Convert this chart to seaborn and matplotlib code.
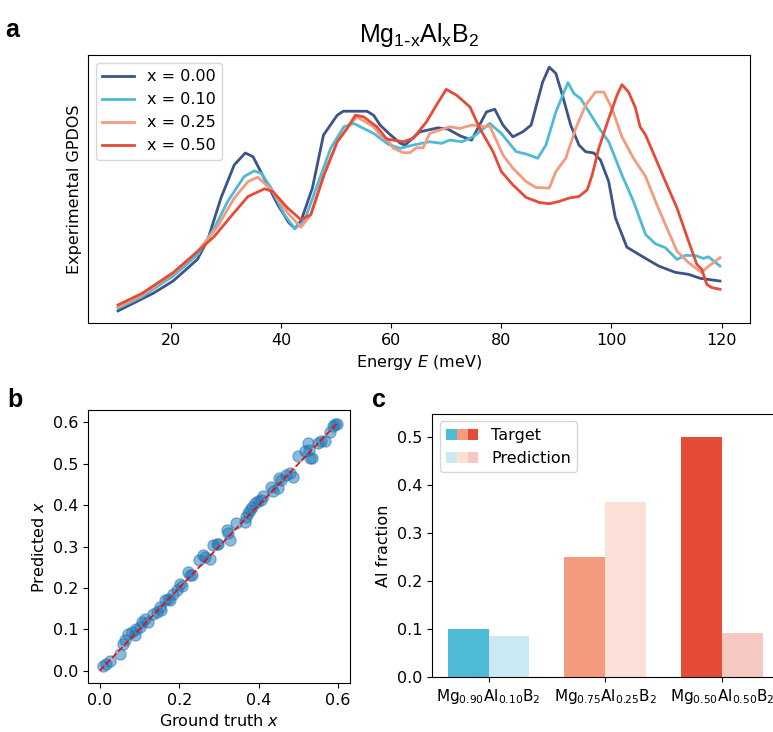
import matplotlib
matplotlib.use("Agg")
import matplotlib.pyplot as plt
import seaborn as sns
import pandas as pd
from matplotlib.patches import Patch
from matplotlib.legend_handler import HandlerTuple

# ---------------- panel a: experimental GPDOS spectra ----------------
series_labels = ["x = 0.00", "x = 0.10", "x = 0.25", "x = 0.50"]
line_colors = ["#3C5488", "#4DBBD5", "#F39B7F", "#E64B35"]

energy_000 = [10.4, 16.8, 20.4, 24.8, 26.7, 29.1, 31.5, 33.5, 34.9, 36.9, 39.4, 41.4, 42.5, 43.6,
              45.7, 47.7, 50.2, 51.3, 55.6, 56.8, 58.0, 59.5, 61.6, 62.5, 65.2, 68.5, 70.3, 72.5,
              74.6, 77.3, 78.8, 80.3, 82.1, 83.9, 85.4, 87.5, 88.7, 89.9, 91.1, 92.6, 94.1, 95.3,
              96.8, 98.0, 99.5, 100.7, 102.8, 105.5, 108.6, 111.6, 114.0, 116.1, 119.7]
gpdos_000 = [0.113, 0.29, 0.413, 0.63, 0.83, 1.25, 1.58, 1.70, 1.663, 1.45, 1.18, 1.00, 0.94, 1.013,
             1.35, 1.88, 2.08, 2.12, 2.12, 2.08, 1.98, 1.90, 1.80, 1.78, 1.913, 1.953, 1.94, 1.873,
             1.83, 2.113, 2.14, 1.98, 1.863, 1.913, 1.98, 2.413, 2.563, 2.50, 2.28, 1.98, 1.78, 1.713,
             1.70, 1.63, 1.413, 1.05, 0.753, 0.663, 0.563, 0.50, 0.48, 0.44, 0.413]

energy_010 = [10.4, 14.7, 20.4, 24.9, 27.9, 30.3, 33.3, 35.1, 36.4, 38.2, 40.6, 42.5, 44.2, 46.6,
              49.0, 51.4, 53.2, 56.8, 58.0, 59.5, 61.6, 64.0, 67.0, 69.2, 70.6, 72.8, 74.9, 77.9,
              80.0, 82.7, 84.5, 86.6, 88.1, 89.9, 92.1, 93.2, 94.4, 96.5, 98.0, 99.5, 101.9, 104.0,
              106.2, 108.0, 109.8, 111.9, 113.4, 115.2, 116.7, 117.6, 119.7]
gpdos_010 = [0.14, 0.253, 0.463, 0.68, 0.947, 1.213, 1.463, 1.52, 1.497, 1.347, 1.08, 0.94, 1.013, 1.38,
             1.747, 1.963, 1.997, 1.897, 1.847, 1.787, 1.747, 1.78, 1.813, 1.797, 1.83, 1.813, 1.863, 1.997,
             1.897, 1.713, 1.69, 1.647, 1.78, 2.113, 2.407, 2.297, 2.247, 2.063, 1.93, 1.813, 1.48, 1.213,
             0.88, 0.787, 0.747, 0.63, 0.67, 0.67, 0.64, 0.657, 0.563]

energy_025 = [10.4, 14.7, 20.4, 24.9, 28.5, 31.5, 34.0, 35.8, 38.2, 41.2, 43.6, 45.4, 47.8, 50.2,
              52.6, 53.8, 56.8, 58.0, 59.5, 60.4, 62.2, 63.4, 64.6, 65.8, 67.0, 68.8, 70.6, 72.5,
              74.6, 77.3, 77.9, 80.3, 82.1, 84.5, 86.3, 88.7, 89.9, 91.7, 93.5, 95.3, 97.1, 98.6,
              100.1, 101.9, 104.0, 106.2, 108.0, 109.8, 111.9, 114.0, 116.4, 117.3, 119.7]
gpdos_025 = [0.153, 0.273, 0.487, 0.713, 0.963, 1.247, 1.413, 1.457, 1.33, 1.097, 0.953, 1.08, 1.48, 1.813,
             1.997, 2.063, 1.963, 1.88, 1.82, 1.747, 1.703, 1.703, 1.753, 1.753, 1.897, 1.93, 1.963, 1.947,
             1.98, 1.963, 1.973, 1.68, 1.547, 1.413, 1.353, 1.347, 1.513, 1.647, 1.947, 2.18, 2.313, 2.313,
             2.147, 1.863, 1.647, 1.463, 1.213, 0.98, 0.713, 0.597, 0.497, 0.547, 0.647]

energy_050 = [10.4, 14.7, 20.4, 24.9, 27.9, 30.9, 34.0, 37.0, 38.5, 41.2, 43.6, 45.4, 47.8, 50.2,
              52.0, 53.5, 55.0, 57.4, 59.2, 62.2, 64.0, 66.4, 68.2, 70.0, 71.9, 74.3, 76.1, 78.5,
              80.0, 82.1, 84.5, 86.9, 88.7, 90.5, 92.3, 94.1, 95.6, 96.5, 97.7, 99.5, 101.0, 101.9,
              103.1, 104.3, 105.2, 106.2, 108.0, 109.8, 111.9, 114.0, 115.5, 116.4, 117.3, 118.2, 119.7]
gpdos_050 = [0.173, 0.287, 0.497, 0.713, 0.863, 1.063, 1.263, 1.34, 1.313, 1.147, 1.03, 1.08, 1.48, 1.813,
             1.947, 2.08, 2.063, 1.963, 1.84, 1.813, 1.847, 2.013, 2.18, 2.34, 2.28, 2.163, 1.947, 1.713,
             1.513, 1.38, 1.253, 1.203, 1.19, 1.213, 1.247, 1.263, 1.33, 1.48, 1.747, 2.047, 2.28, 2.387,
             2.313, 2.163, 1.963, 1.88, 1.647, 1.413, 1.147, 0.813, 0.58, 0.53, 0.38, 0.347, 0.33]

# ---------------- panel b: predicted vs ground-truth composition ----------------
ground_truth = [0.008, 0.015, 0.025, 0.050, 0.057, 0.063, 0.071, 0.080, 0.088, 0.092, 0.101,
                0.105, 0.113, 0.122, 0.134, 0.143, 0.155, 0.151, 0.164, 0.172, 0.176, 0.185,
                0.193, 0.201, 0.206, 0.222, 0.227, 0.231, 0.250, 0.260, 0.264, 0.277, 0.285,
                0.294, 0.298, 0.319, 0.323, 0.327, 0.344, 0.365, 0.369, 0.373, 0.378, 0.382,
                0.390, 0.398, 0.407, 0.411, 0.432, 0.436, 0.449, 0.451, 0.457, 0.470, 0.478,
                0.487, 0.499, 0.516, 0.524, 0.527, 0.533, 0.529, 0.550, 0.558, 0.566, 0.579,
                0.586, 0.592, 0.597]
predicted = [0.012, 0.016, 0.024, 0.039, 0.065, 0.073, 0.089, 0.093, 0.085, 0.101, 0.105,
             0.117, 0.125, 0.117, 0.137, 0.142, 0.146, 0.154, 0.170, 0.174, 0.171, 0.186,
             0.194, 0.210, 0.204, 0.239, 0.231, 0.232, 0.267, 0.279, 0.275, 0.271, 0.303,
             0.307, 0.307, 0.341, 0.332, 0.316, 0.356, 0.360, 0.372, 0.380, 0.388, 0.396,
             0.405, 0.409, 0.413, 0.421, 0.445, 0.433, 0.441, 0.465, 0.461, 0.473, 0.477,
             0.469, 0.518, 0.530, 0.550, 0.534, 0.514, 0.514, 0.550, 0.554, 0.554, 0.578,
             0.591, 0.595, 0.595]

# ---------------- panel c: Al fraction, target vs prediction ----------------
compositions = [r"$\mathregular{Mg_{0.90}Al_{0.10}B_2}$",
                r"$\mathregular{Mg_{0.75}Al_{0.25}B_2}$",
                r"$\mathregular{Mg_{0.50}Al_{0.50}B_2}$"]
target_fraction = [0.10, 0.25, 0.50]
predicted_fraction = [0.087, 0.366, 0.093]
target_colors = ["#4DBBD5", "#F39B7F", "#E64B35"]
prediction_alpha = 0.3

FS = 11.5
plt.rcParams.update({
    "font.family": ["DejaVu Sans"],
    "font.size": FS,
    "axes.labelsize": FS,
    "xtick.labelsize": FS,
    "ytick.labelsize": FS,
    "legend.fontsize": FS,
})

fig = plt.figure(figsize=(7.73, 7.32), dpi=100)
ax_a = fig.add_axes([0.1138, 0.5587, 0.8565, 0.3662])
ax_b = fig.add_axes([0.1138, 0.0669, 0.3390, 0.3730])
ax_c = fig.add_axes([0.5589, 0.0747, 0.4484, 0.3604])

# ---- a ----
spectra = pd.concat([
    pd.DataFrame({"E": e, "GPDOS": g, "series": lab})
    for e, g, lab in zip([energy_000, energy_010, energy_025, energy_050],
                         [gpdos_000, gpdos_010, gpdos_025, gpdos_050],
                         series_labels)
], ignore_index=True)
sns.lineplot(data=spectra, x="E", y="GPDOS", hue="series", hue_order=series_labels,
             palette=line_colors, sort=False, estimator=None, linewidth=2, ax=ax_a)
ax_a.legend(loc="upper left")
ax_a.set_yticks([])
ax_a.set_xticks([20, 40, 60, 80, 100, 120])
ax_a.set_xlabel("Energy $E$ (meV)")
ax_a.set_ylabel("Experimental GPDOS")
ax_a.set_title(r"$\mathregular{Mg_{1\text{-}x}Al_xB_2}$", fontsize=18,
               fontfamily="Liberation Sans", pad=9)

# ---- b ----
sns.scatterplot(x=ground_truth, y=predicted, s=64, alpha=0.5, color="#1f77b4",
                edgecolor="#1f77b4", linewidth=1, ax=ax_b)
ax_b.plot([0, 0.6], [0, 0.6], "r--", linewidth=1.2)
ax_b.set_xticks([0.0, 0.2, 0.4, 0.6])
ax_b.set_yticks([0.0, 0.1, 0.2, 0.3, 0.4, 0.5, 0.6])
ax_b.set_xlabel("Ground truth $x$")
ax_b.set_ylabel("Predicted $x$")

# ---- c ----
bars = pd.DataFrame({
    "composition": compositions * 2,
    "kind": ["Target"] * 3 + ["Prediction"] * 3,
    "fraction": target_fraction + predicted_fraction,
})
sns.barplot(data=bars, x="composition", y="fraction", hue="kind",
            hue_order=["Target", "Prediction"], width=0.7, saturation=1,
            legend=False, ax=ax_c)
for bar, col in zip(ax_c.containers[0], target_colors):
    bar.set_facecolor(col)
    bar.set_edgecolor("none")
for bar, col in zip(ax_c.containers[1], target_colors):
    bar.set_facecolor(col)
    bar.set_alpha(prediction_alpha)
    bar.set_edgecolor("none")
ax_c.set_xlim(-0.485, 2.485)
ax_c.set_ylim(0, 0.55)
ax_c.set_yticks([0.0, 0.1, 0.2, 0.3, 0.4, 0.5])
ax_c.set_xlabel("")
ax_c.set_ylabel("Al fraction")
ax_c.tick_params(axis="x", labelsize=11)
handles = [tuple(Patch(facecolor=c) for c in target_colors),
           tuple(Patch(facecolor=c, alpha=prediction_alpha) for c in target_colors)]
ax_c.legend(handles, ["Target", "Prediction"],
            handler_map={tuple: HandlerTuple(ndivide=None, pad=0)}, loc="upper left")

# panel letters
for letter, x, y in [("a", 0.007, 0.9495), ("b", 0.009, 0.444), ("c", 0.481, 0.444)]:
    fig.text(x, y, letter, fontsize=18, fontweight="bold", fontfamily="Liberation Sans",
             va="baseline", ha="left")

fig.savefig("out.png", dpi=100)
